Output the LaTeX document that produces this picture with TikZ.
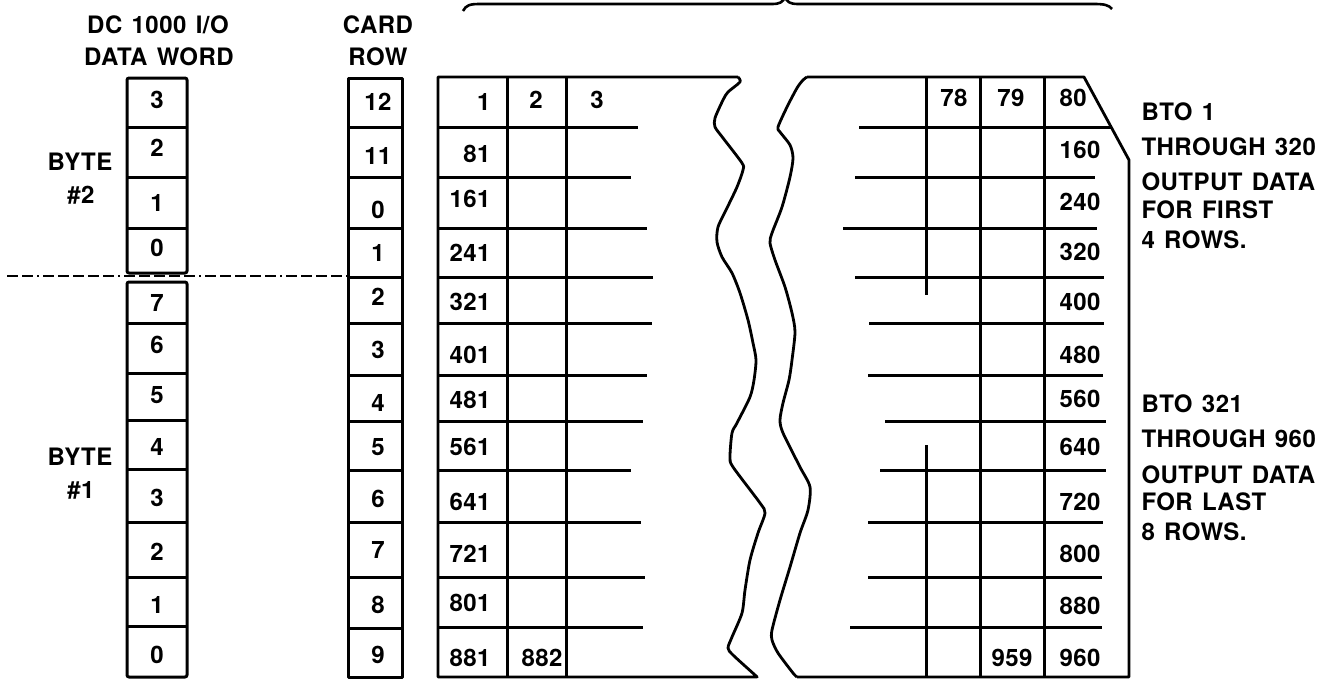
\documentclass[tikz,border=0pt]{standalone}
\usepackage{fontspec}
\setmainfont[LetterSpace=2,WordSpace=1.3]{TeX Gyre Heros}
\begin{document}
\begin{tikzpicture}[x=1pt,y=-1pt,line width=3pt,line join=round,
  txt/.style={font=\fontsize{24}{28}\selectfont\bfseries,inner sep=0pt},
  num/.style={txt,anchor=center},
  lnum/.style={txt,anchor=east},
  rnum/.style={txt,anchor=west},
  lbl/.style={txt,anchor=base},
  note/.style={txt,anchor=base west},
  wave/.style={line width=2.8pt},
  dashdot/.style={line width=2.2pt,dash pattern=on 11pt off 4pt on 11pt off 4pt on 2pt off 4pt on 11pt off 4pt on 11pt off 4pt on 11pt off 4pt}]
\useasboundingbox (0,0) rectangle (1337,678);

% brace on top
\draw[line width=2.6pt] (463,11) .. controls (466,5) and (470,4) .. (480,4) -- (772,4)
  .. controls (780,4) and (783,2) .. (785,-3) .. controls (787,2) and (790,4) .. (798,4)
  -- (1094,4) .. controls (1104,4) and (1109,5) .. (1112,9);

% headings
\node[lbl] (h1) at (158,33) {DC 1000 I/O};
\node[lbl] (h2) at (159,65) {DATA WORD};
\node[lbl] (h3) at (378,33) {CARD};
\node[lbl] (h4) at (378,65) {ROW};

% byte labels
\node[lbl] (b2a) at (80,170) {BYTE};
\node[lbl] (b2b) at (81,203) {\#2};
\node[lbl] (b1a) at (80,465) {BYTE};
\node[lbl] (b1b) at (81,498) {\#1};

% data word boxes
\draw[rounded corners=2pt] (127,78) rectangle (187,273);
\foreach \y in {127,177,228} \draw (127,\y) -- (187,\y);
\draw[rounded corners=2pt] (127,282) rectangle (187,677);
\foreach \y in {323,373,420,469,522,577,626} \draw (127,\y) -- (187,\y);
\foreach \t/\y [count=\i] in {3/100,2/148,1/203,0/248,7/303,6/345,5/395,4/447,3/498,2/552,1/605,0/655}
  \node[num] (dw\i) at (157,\y) {\t};

% dash-dot separator
\draw[dashdot] (7,276) -- (347,276);

% card row column
\draw (348,78) rectangle (402,677);
\foreach \y in {127,177,228,277,323,375,421,470,522,577,628} \draw (348,\y) -- (402,\y);
\foreach \t/\y [count=\i] in {12/102,11/156,0/210,1/253,2/297,3/350,4/403,5/447,6/499,7/550,8/605,9/655}
  \node[num] (cr\i) at (378,\y) {\t};

% card left part outline
\draw[wave] (757,677) -- (438,677) -- (438,77) -- (738,77)
  plot[smooth,tension=0.45] coordinates {(738,77) (740,82) (728,92) (723,100) (715,118) (715,127)
   (723,138) (742,163) (743,170) (737,187) (727,208) (718,227) (717,242) (722,257) (732,273)
   (740,293) (748,320) (753,343) (756,360) (754,380) (750,397) (737,423) (732,433) (730,457)
   (733,467) (760,503) (765,513) (758,533) (750,560) (745,590) (742,613) (732,637) (728,648)
   (733,655) (755,675) (757,677)};
% card right part outline
\draw[wave] (797,677) -- (1129,677) -- (1129,160) -- (1084,77) -- (807,77)
  plot[smooth,tension=0.45] coordinates {(807,77) (803,80) (797,88) (787,107) (778,127) (780,132)
   (790,145) (793,158) (790,177) (782,207) (772,233) (770,243) (775,260) (785,287) (792,313)
   (795,332) (792,360) (789,380) (783,403) (780,420) (783,433) (800,467) (810,487) (808,510)
   (800,533) (790,567) (780,600) (772,630) (772,640) (778,653) (793,673) (797,677)};

% left part columns and rows
\draw (507,78) -- (507,677);
\draw (566,78) -- (566,677);
\foreach \y/\e in {127/638,177/631,228/647,277/653,323/652,375/647,421/643,470/631,522/641,577/645,627/643}
  \draw (438,\y) -- (\e,\y);

% right part columns and rows
\draw (926,78) -- (926,295);
\draw (926,445) -- (926,677);
\draw (980,78) -- (980,677);
\draw (1044,78) -- (1044,677);
\foreach \s/\y/\e in {859/127/1111,855/177/1095,843/228/1097,855/277/1104,869/323/1104,868/375/1103,885/421/1106,880/470/1106,868/522/1103,868/577/1102,850/627/1102}
  \draw (\s,\y) -- (\e,\y);

% left part numbers
\foreach \t/\y [count=\i] in {1/102,81/154,161/199,241/253,321/302,401/355,481/400,561/447,641/502,721/554,801/603,881/658}
  \node[lnum] (l\i) at (492,\y) {\t};
\node[num] (c2) at (536,100) {2};
\node[num] (c3) at (597,100) {3};
\node[num] (c882) at (542,658) {882};

% right part numbers
\foreach \t/\y [count=\i] in {80/98,160/150,240/202,320/252,400/302,480/355,560/399,640/447,720/502,800/554,880/606,960/658}
  \node[rnum] (r\i) at (1058,\y) {\t};
\node[num] (c78) at (954,98) {78};
\node[num] (c79) at (1011,98) {79};
\node[num] (c959) at (1012,658) {959};

% notes
\node[note] (n1) at (1140,120) {BTO 1};
\node[note] (n2) at (1140,155) {THROUGH 320};
\node[note] (n3) at (1140,190) {OUTPUT DATA};
\node[note] (n4) at (1140,218) {FOR FIRST};
\node[note] (n5) at (1140,248) {4 ROWS.};
\node[note] (m1) at (1140,412) {BTO 321};
\node[note] (m2) at (1140,447) {THROUGH 960};
\node[note] (m3) at (1140,483) {OUTPUT DATA};
\node[note] (m4) at (1140,510) {FOR LAST};
\node[note] (m5) at (1140,540) {8 ROWS.};
\end{tikzpicture}
\end{document}
